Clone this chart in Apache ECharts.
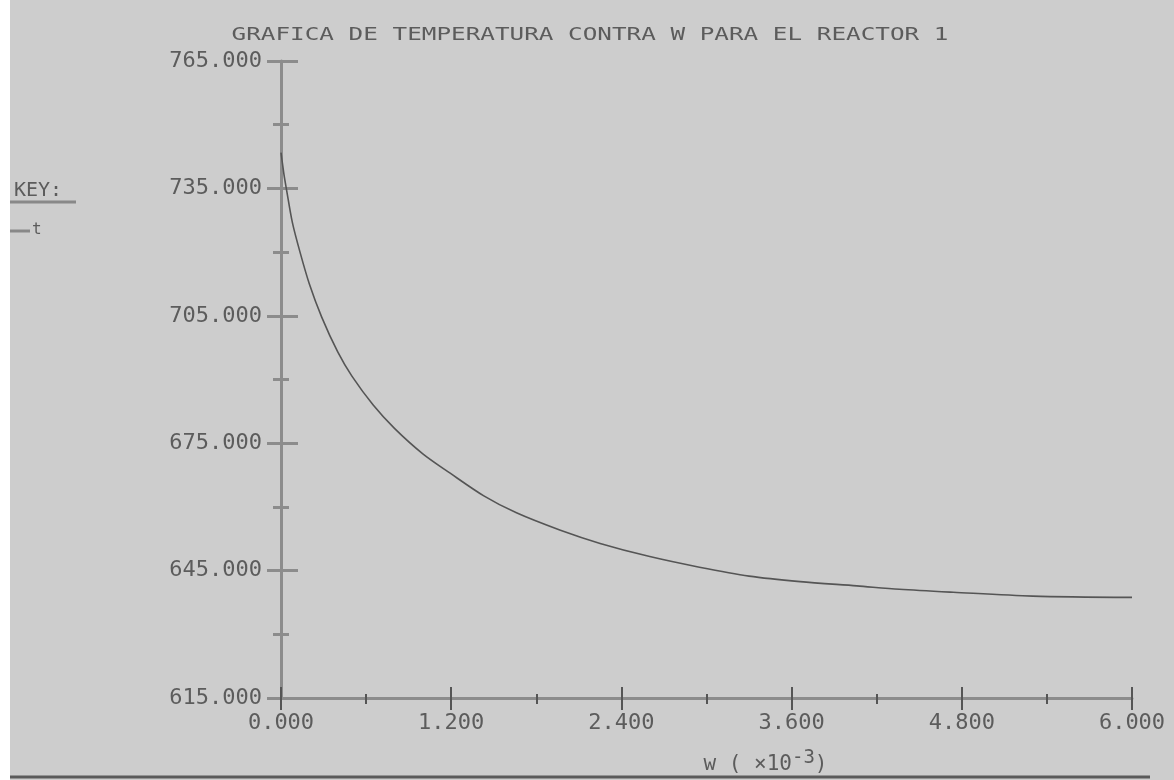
<!DOCTYPE html>
<html>
<head>
<meta charset="utf-8">
<script src="https://cdn.jsdelivr.net/npm/echarts@6/dist/echarts.min.js"></script>
<style>
html,body{margin:0;padding:0;background:#ffffff;}
#chart{width:1174px;height:780px;}
</style>
</head>
<body>
<div id="chart"></div>
<script>
// Data
var titleText = 'GRAFICA DE TEMPERATURA CONTRA W PARA EL REACTOR 1';
var seriesName = 't';
var wValues = [0, 0.02, 0.04, 0.08, 0.134, 0.2, 0.287, 0.4, 0.5, 0.65, 0.8, 1.0, 1.19, 1.43, 1.66, 1.97, 2.25, 2.6, 2.95, 3.3, 3.66, 4.06, 4.36, 4.74, 5.3, 6.0];
var tValues = [743.4, 738.5, 734.5, 727, 720, 712.5, 704.7, 696.5, 690.8, 684, 678.5, 672.5, 668, 662.6, 658.6, 654.5, 651.4, 648.3, 645.8, 643.7, 642.4, 641.4, 640.6, 639.9, 639.0, 638.7];
var xMin = 0, xMax = 6, xStep = 1.2;
var yMin = 615, yMax = 765, yStep = 30;

var points = wValues.map(function (w, i) { return [w, tValues[i]]; });

var mono = 'DejaVu Sans Mono';
var txt = '#5c5c5c';
var axisGray = '#8c8c8c';

var chart = echarts.init(document.getElementById('chart'), null, {renderer: 'canvas'});
var option = {
  backgroundColor: '#cdcdcd',
  animation: false,
  grid: {left: 281, right: 42, top: 61, bottom: 79},
  xAxis: [{
    type: 'value', min: xMin, max: xMax, interval: xStep,
    position: 'bottom',
    axisLine: {show: true, onZero: false, lineStyle: {color: axisGray, width: 3}},
    axisTick: {show: true, inside: false, length: 12, lineStyle: {color: '#555', width: 2}},
    minorTick: {show: true, splitNumber: 2, length: 6, lineStyle: {color: '#555', width: 2}},
    splitLine: {show: false},
    axisLabel: {show: true, margin: 14, color: txt, fontFamily: mono, fontSize: 22,
      formatter: function (v) { return v.toFixed(3); }},
    name: 'w ( ×10{s|-3})',
    nameLocation: 'middle', nameGap: 51,
    nameTextStyle: {color: txt, fontFamily: mono, fontSize: 21, padding: [0, 0, 0, 118],
      rich: {s: {fontFamily: mono, fontSize: 19, color: txt, padding: [0, 0, 12, 0]}}}
  }, {
    type: 'value', min: xMin, max: xMax, interval: xStep,
    position: 'bottom',
    axisLine: {show: false, onZero: false},
    axisTick: {show: true, inside: true, length: 11, lineStyle: {color: '#555', width: 2}},
    minorTick: {show: true, splitNumber: 2, length: 4, lineStyle: {color: '#555', width: 2}},
    splitLine: {show: false},
    axisLabel: {show: false}
  }],
  yAxis: [{
    type: 'value', min: yMin, max: yMax, interval: yStep,
    position: 'left',
    axisLine: {show: true, onZero: false, lineStyle: {color: axisGray, width: 3}},
    axisTick: {show: true, inside: false, length: 14, lineStyle: {color: axisGray, width: 3}},
    minorTick: {show: true, splitNumber: 2, length: 8, lineStyle: {color: axisGray, width: 3}},
    splitLine: {show: false},
    axisLabel: {show: true, margin: 19, color: txt, fontFamily: mono, fontSize: 22,
      formatter: function (v) { return v.toFixed(3); }}
  }, {
    type: 'value', min: yMin, max: yMax, interval: yStep,
    position: 'left',
    axisLine: {show: false, onZero: false},
    axisTick: {show: true, inside: true, length: 17, lineStyle: {color: axisGray, width: 3}},
    minorTick: {show: true, splitNumber: 2, length: 8, lineStyle: {color: axisGray, width: 3}},
    splitLine: {show: false},
    axisLabel: {show: false}
  }],
  series: [{
    name: seriesName,
    type: 'line',
    xAxisIndex: 0, yAxisIndex: 0,
    data: points,
    smooth: 0.3,
    showSymbol: false,
    symbol: 'none',
    lineStyle: {color: '#555555', width: 1.6}
  }],
  graphic: [
    {type: 'rect', shape: {x: 0, y: 0, width: 10, height: 780}, style: {fill: '#ffffff'}, silent: true},
    {type: 'line', shape: {x1: 10, y1: 777, x2: 1150, y2: 777}, style: {stroke: '#5a5a5a', lineWidth: 3}, silent: true},
    {type: 'text', x: 590, y: 35, scaleX: 1.35, scaleY: 1,
      style: {text: titleText, font: '18px "DejaVu Sans Mono"', fill: txt, align: 'center', verticalAlign: 'middle'}},
    {type: 'text', x: 14, y: 191,
      style: {text: 'KEY:', font: '20px "DejaVu Sans Mono"', fill: txt, align: 'left', verticalAlign: 'middle'}},
    {type: 'line', shape: {x1: 10, y1: 202, x2: 76, y2: 202}, style: {stroke: '#888', lineWidth: 3}, silent: true},
    {type: 'line', shape: {x1: 10, y1: 231, x2: 30, y2: 231}, style: {stroke: '#888', lineWidth: 3}, silent: true},
    {type: 'text', x: 32, y: 230,
      style: {text: seriesName, font: '16px "DejaVu Sans Mono"', fill: txt, align: 'left', verticalAlign: 'middle'}}
  ]
};
chart.setOption(option);
</script>
</body>
</html>
